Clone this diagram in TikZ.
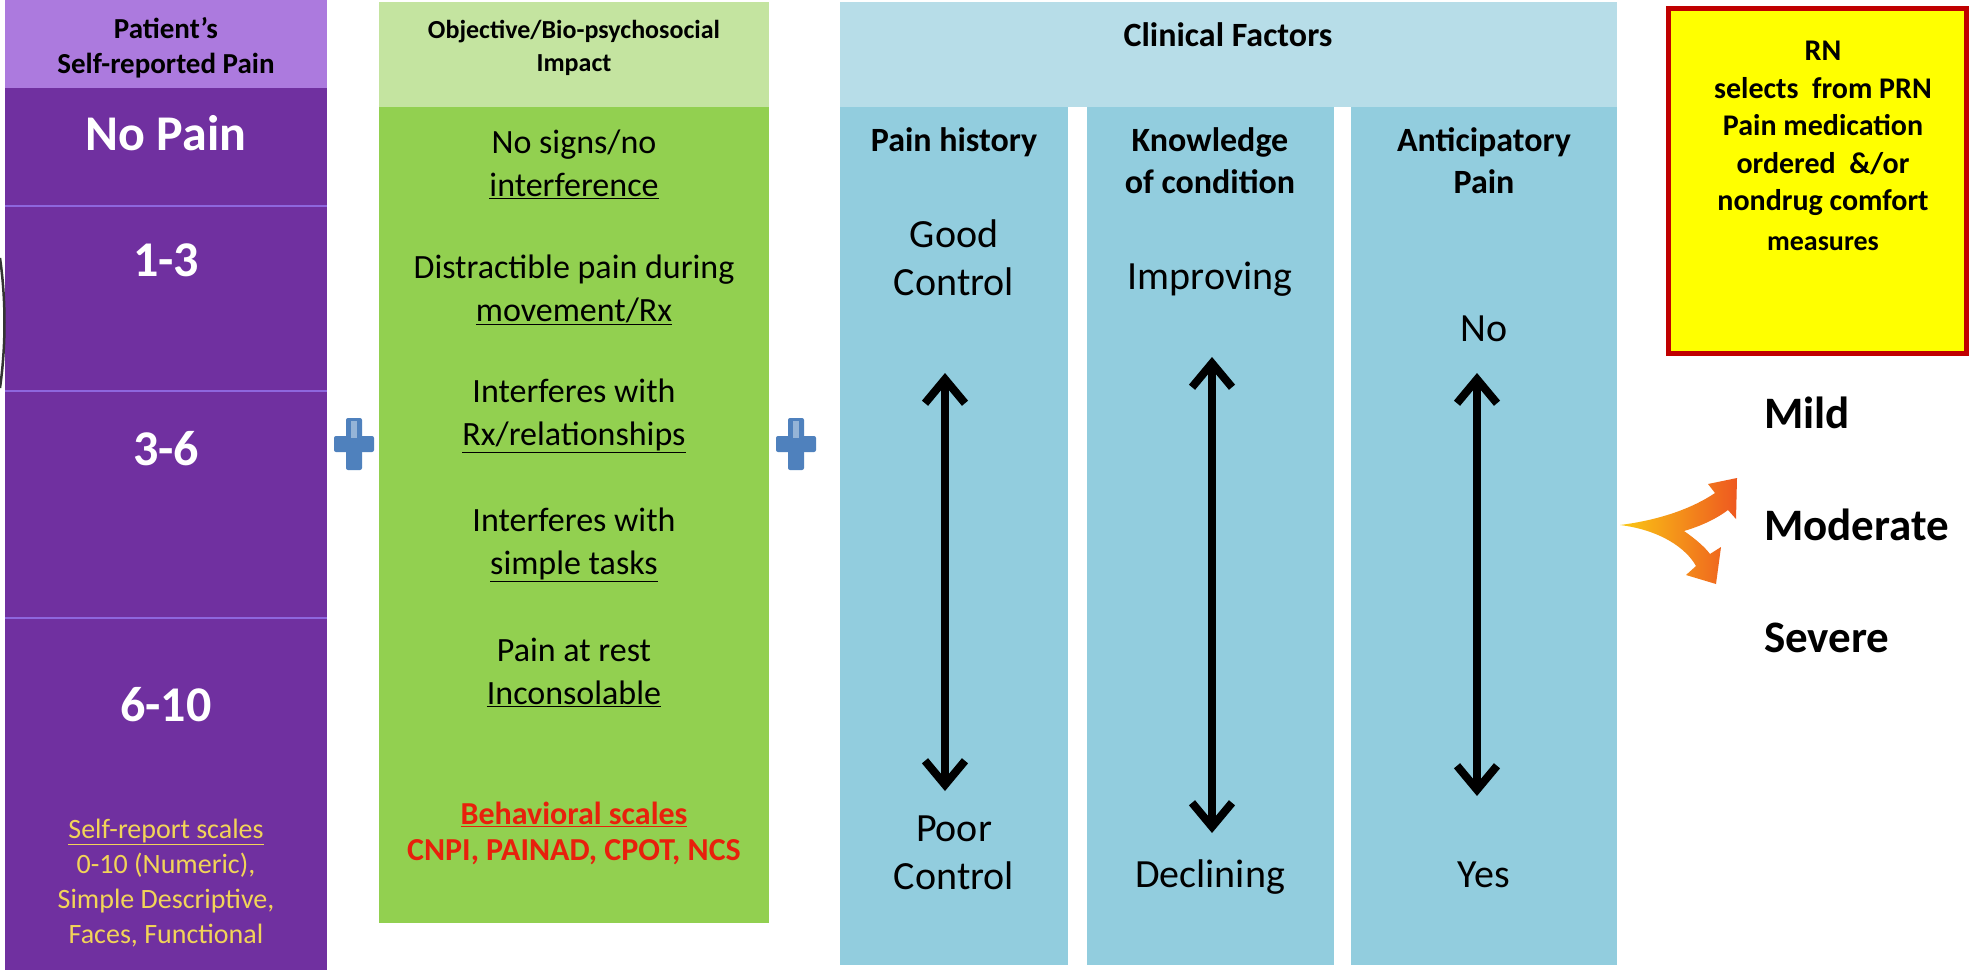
\documentclass[tikz,border=0pt]{standalone}
\usepackage{fontspec}
\setmainfont{Carlito}
\usetikzlibrary{calc, arrows.meta}

\definecolor{PurpleBody}{RGB}{112,48,160}
\definecolor{PurpleHead}{RGB}{172,122,222}
\definecolor{PurpleLine}{RGB}{142,102,222}
\definecolor{GreenBody}{RGB}{146,208,80}
\definecolor{GreenHead}{RGB}{196,228,160}
\definecolor{BlueBody}{RGB}{146,205,222}
\definecolor{BlueHead}{RGB}{183,221,232}
\definecolor{RNYellow}{RGB}{255,255,0}
\definecolor{RNRed}{RGB}{192,0,0}
\definecolor{ScaleYellow}{RGB}{242,212,88}
\definecolor{BehavRed}{RGB}{232,32,12}
\definecolor{PlusBlue}{RGB}{79,129,189}
\definecolor{SplitYellow}{RGB}{250,200,20}
\definecolor{SplitOrange}{RGB}{238,88,32}

\tikzset{
    every node/.style={inner sep=0pt},
    lvltxt/.style={align=center, text=white, font=\bfseries\fontsize{50}{60}\selectfont},
    headtxt/.style={align=center, font=\bfseries\fontsize{29}{35}\selectfont},
    scaletxt/.style={align=center, text=ScaleYellow, font=\fontsize{28}{35}\selectfont},
    imptxt/.style={align=center, font=\fontsize{34}{43}\selectfont},
    behtxt/.style={align=center, text=BehavRed, font=\bfseries\fontsize{32}{36}\selectfont},
    colhead/.style={align=center, font=\bfseries\fontsize{34}{42}\selectfont},
    valtxt/.style={align=center, font=\fontsize{40}{48}\selectfont},
    rntxt/.style={align=center, font=\bfseries\fontsize{30}{37.5}\selectfont},
    sevtxt/.style={anchor=west, font=\bfseries\fontsize{45}{50}\selectfont},
    scalearrow/.style={line width=8pt, line join=miter,
        {Straight Barb[length=24pt,width=40pt]}-{Straight Barb[length=24pt,width=40pt]}}
}

\begin{document}
\begin{tikzpicture}[x=1pt, y=-1pt]

\useasboundingbox (0,0) rectangle (1971,970);
\fill[white] (0,0) rectangle (1971,970);

% Self-reported pain
\fill[PurpleHead] (5,0) rectangle (327,88);
\fill[PurpleBody] (5,88) rectangle (327,970);
\foreach \yy in {206,391,618}
    \draw[PurpleLine, line width=2pt] (5,\yy) -- (327,\yy);
\draw[black!80, line width=2.5pt] (0,258) .. controls (6,300) and (6,345) .. (0,388);

\node[headtxt] (selfhead) at (166,48) {Patient's\\Self-reported Pain};
\node[lvltxt] (nopain) at (166,133) {No Pain};
\node[lvltxt] (lvlone) at (166,260) {1-3};
\node[lvltxt] (lvltwo) at (166,449) {3-6};
\node[lvltxt] (lvlthree) at (166,705) {6-10};
\node[scaletxt] (selfscales) at (166,883)
    {\underline{Self-report scales}\\0-10 (Numeric),\\Simple Descriptive,\\Faces, Functional};

% Objective impact
\fill[GreenHead] (379,2) rectangle (769,107);
\fill[GreenBody] (379,107) rectangle (769,923);

\node[headtxt, font=\bfseries\fontsize{26}{33}\selectfont] (objhead) at (574,48)
    {Objective/Bio-psychosocial\\Impact};
\node[imptxt] (impone) at (574,164) {No signs/no\\\underline{interference}};
\node[imptxt] (imptwo) at (574,290) {Distractible pain during\\\underline{movement/Rx}};
\node[imptxt] (impthree) at (574,416) {Interferes with\\\underline{Rx/relationships}};
\node[imptxt] (impfour) at (574,545) {Interferes with\\\underline{simple tasks}};
\node[imptxt] (impfive) at (574,672) {Pain at rest\\\underline{Inconsolable}};
\node[behtxt] (behav) at (574,833) {\underline{Behavioral scales}\\CNPI, PAINAD, CPOT, NCS};

% Plus signs
\foreach \px in {354,796} {
    \fill[PlusBlue, rounded corners=2pt] (\px-8,418) rectangle (\px+8,470);
    \fill[PlusBlue, rounded corners=2pt] (\px-20,436) rectangle (\px+20,452);
    \fill[PlusBlue!60!white] (\px-3,421) rectangle (\px+3,438);
}

% Clinical factors
\fill[BlueHead] (840,2) rectangle (1617,107);
\foreach \xa/\xb in {840/1068, 1087/1334, 1351/1617}
    \fill[BlueBody] (\xa,107) rectangle (\xb,965);

\node[colhead] (clinical) at (1228,35) {Clinical Factors};
\node[colhead] (hist) at (954,142) {Pain history};
\node[colhead] (know) at (1210,161) {Knowledge\\of condition};
\node[colhead] (antic) at (1484,161) {Anticipatory\\Pain};

\node[valtxt] (goodctl) at (954,258) {Good\\Control};
\node[valtxt] (poorctl) at (954,853) {Poor\\Control};
\node[valtxt] (improv) at (1210,279) {Improving};
\node[valtxt] (declin) at (1210,877) {Declining};
\node[valtxt] (antno) at (1484,329) {No};
\node[valtxt] (antyes) at (1484,875) {Yes};

\coordinate (histtop) at (945,373);
\coordinate (histbot) at (945,791);
\coordinate (knowtop) at (1212,357);
\coordinate (knowbot) at (1212,833);
\coordinate (antictop) at (1477,373);
\coordinate (anticbot) at (1477,796);

\draw[scalearrow] (histtop) -- (histbot);
\draw[scalearrow] (knowtop) -- (knowbot);
\draw[scalearrow] (antictop) -- (anticbot);

% RN box
\draw[RNRed, line width=5pt, fill=RNYellow] (1668,8) rectangle (1966,353);
\node[rntxt] (rntext) at (1823,146)
    {RN\\selects\ \ from PRN\\Pain medication\\ordered\ \ \&/or\\nondrug comfort\\[2pt]
     {\fontsize{28}{34}\selectfont measures}};

% Split arrow and severity
\shade[left color=SplitYellow, right color=SplitOrange]
    (1620,525) .. controls (1660,520) and (1693,508) .. (1715,493)
    -- (1708,484) -- (1737,478) -- (1736,519) -- (1728,510)
    .. controls (1712,522) and (1694,528) .. (1684,531)
    .. controls (1694,538) and (1704,546) .. (1710,554)
    -- (1721,547) -- (1716,584) -- (1686,575) -- (1696,566)
    .. controls (1686,548) and (1660,530) .. cycle;

\node[sevtxt] (mild) at (1764,413) {Mild};
\node[sevtxt] (moderate) at (1764,525) {Moderate};
\node[sevtxt] (severe) at (1764,638) {Severe};

\end{tikzpicture}
\end{document}
